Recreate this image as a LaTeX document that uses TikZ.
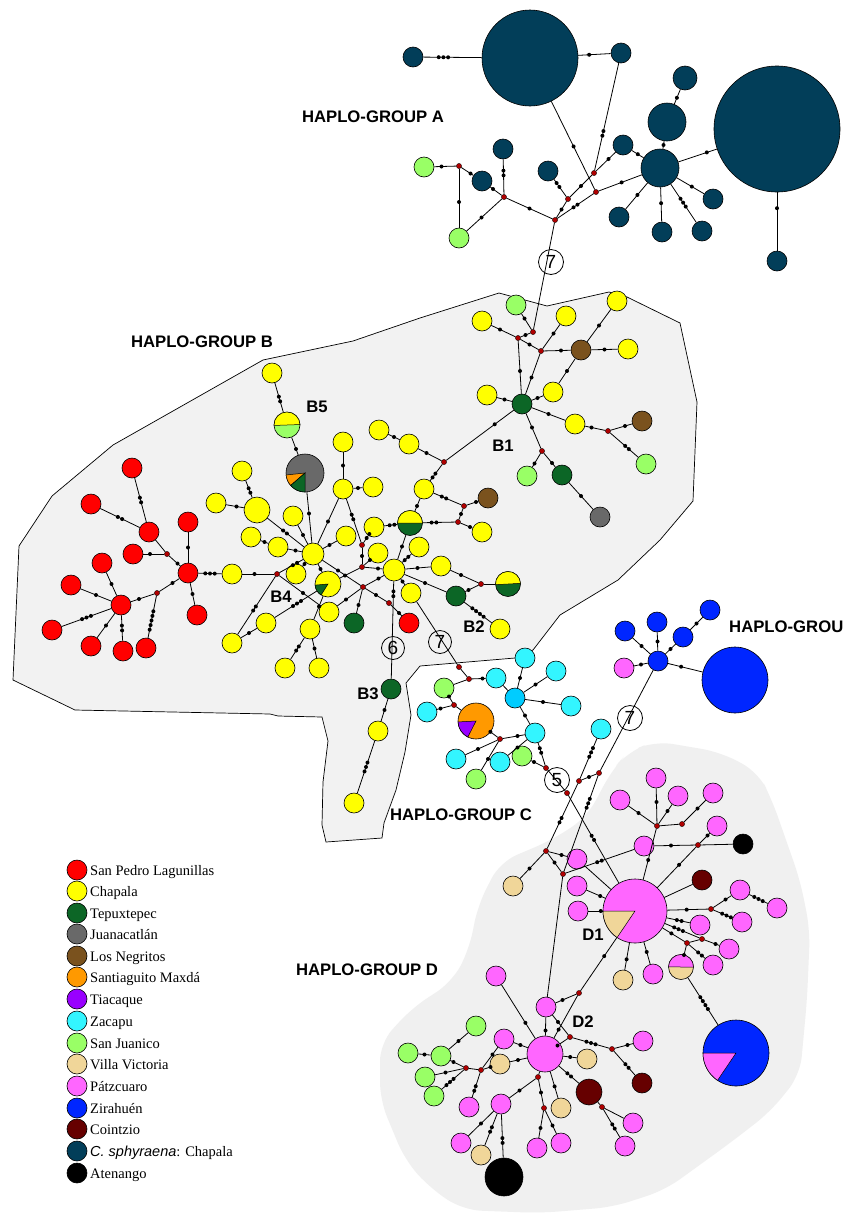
\documentclass[tikz,border=0pt]{standalone}
\usepackage{fontspec}
\setmainfont{Liberation Serif}
\newfontfamily\labfont{Liberation Sans}
\usetikzlibrary{calc}
\definecolor{cSPL}{RGB}{255,0,0}
\definecolor{cCHA}{RGB}{255,255,0}
\definecolor{cTEP}{RGB}{12,102,38}
\definecolor{cJUA}{RGB}{105,105,105}
\definecolor{cNEG}{RGB}{122,82,30}
\definecolor{cSAN}{RGB}{255,153,0}
\definecolor{cTIA}{RGB}{153,0,255}
\definecolor{cZAC}{RGB}{51,245,255}
\definecolor{cZACd}{RGB}{0,204,255}
\definecolor{cSJU}{RGB}{153,255,102}
\definecolor{cVIL}{RGB}{240,214,153}
\definecolor{cPAT}{RGB}{255,102,255}
\definecolor{cZIR}{RGB}{0,38,255}
\definecolor{cCOI}{RGB}{102,0,0}
\definecolor{cSPH}{RGB}{2,62,89}
\definecolor{cATE}{RGB}{0,0,0}
\definecolor{cMED}{RGB}{175,0,0}
\definecolor{bgB}{RGB}{242,242,242}
\definecolor{bgD}{RGB}{240,240,240}
\newcounter{mc}
\newcommand\mdot[1]{\stepcounter{mc}\node[mut] (mu\arabic{mc}) at (#1) {};}
\newcommand\ee[2]{\draw[edge] (#1) -- (#2);}
\newcommand\ed[4][0.5]{%
  \draw[edge] (#2) -- (#3);
  \coordinate (tm) at ($(#2)!#1!(#3)$);
  \ifcase#4\relax
  \or \mdot{tm}
  \or \mdot{$(tm)!-2.4pt!(#3)$}\mdot{$(tm)!2.4pt!(#3)$}
  \or \mdot{$(tm)!-4.7pt!(#3)$}\mdot{tm}\mdot{$(tm)!4.7pt!(#3)$}
  \or \mdot{$(tm)!-7pt!(#3)$}\mdot{$(tm)!-2.4pt!(#3)$}\mdot{$(tm)!2.4pt!(#3)$}\mdot{$(tm)!7pt!(#3)$}
  \or \mdot{$(tm)!-9.4pt!(#3)$}\mdot{$(tm)!-4.7pt!(#3)$}\mdot{tm}\mdot{$(tm)!4.7pt!(#3)$}\mdot{$(tm)!9.4pt!(#3)$}
  \fi}
\newcommand\pwedge[6]{\filldraw[fill=#6,draw=black,line width=0.5pt] (#1,#2) -- +(#4:#3) arc[start angle=#4,end angle=#5,radius=#3] -- cycle;}
\begin{document}
\begin{tikzpicture}[x=1pt,y=-1pt,
  hap/.style={circle,draw=black,line width=0.6pt,inner sep=0pt,minimum size=20pt},
  sSPL/.style={fill=cSPL}, sCHA/.style={fill=cCHA}, sTEP/.style={fill=cTEP},
  sJUA/.style={fill=cJUA}, sNEG/.style={fill=cNEG}, sSAN/.style={fill=cSAN},
  sTIA/.style={fill=cTIA}, sZAC/.style={fill=cZAC}, sZACd/.style={fill=cZACd},
  sSJU/.style={fill=cSJU}, sVIL/.style={fill=cVIL}, sPAT/.style={fill=cPAT},
  sZIR/.style={fill=cZIR}, sCOI/.style={fill=cCOI}, sSPH/.style={fill=cSPH},
  sATE/.style={fill=cATE},
  med/.style={circle,draw=black,line width=0.3pt,fill=cMED,inner sep=0pt,minimum size=5.2pt},
  mut/.style={circle,fill=black,inner sep=0pt,minimum size=4pt},
  edge/.style={line width=0.8pt},
  numc/.style={circle,draw=black,line width=0.8pt,inner sep=0pt,minimum size=25pt,font=\labfont\fontsize{19}{19}\selectfont},
  lab/.style={font=\labfont\bfseries\fontsize{16.7}{18}\selectfont,inner sep=0pt},
  leg/.style={anchor=base west,font=\fontsize{14.5}{16}\selectfont,inner sep=0pt}]
\useasboundingbox (0,0) rectangle (854,1216);
\fill[white] (0,0) rectangle (854,1216);
% regions
\filldraw[fill=bgB,draw=black,line width=0.7pt] (499,293) -- (547,306) -- (609,292) -- (627,297) -- (680,323) -- (697,402) -- (693,501) -- (660,540) -- (618,580) -- (560,615) -- (533,650) -- (515,658) -- (420,666) -- (406,683) -- (411,715) -- (405,752) -- (396,790) -- (384,823) -- (382,838) -- (326,842) -- (322,825) -- (323,782) -- (328,741) -- (322,717) -- (278,716) -- (270,714) -- (75,710) -- (13,680) -- (19,546) -- (52,496) -- (113,445) -- (263,360) -- (353,341) -- (420,318) -- cycle;
\fill[bgD,rounded corners=18pt] (469,950) -- (478,905) -- (500,862) -- (552,840) -- (587,817) -- (612,770) -- (628,752) -- (655,741) -- (720,752) -- (758,772) -- (772,800) -- (800,880) -- (810,930) -- (807,1000) -- (800,1075) -- (770,1112) -- (730,1143) -- (665,1190) -- (613,1207) -- (540,1213) -- (463,1210) -- (430,1188) -- (405,1160) -- (380,1100) -- (380,1043) -- (412,1008) -- (452,982) -- cycle;

% ---------- group A nodes
\node[hap,sSPH] (A1) at (413,57) {};
\node[hap,sSPH,minimum size=96pt] (A2) at (530,58) {};
\node[hap,sSPH] (A3) at (621,53) {};
\node[hap,sSPH,minimum size=24pt] (A4) at (685,78) {};
\node[hap,sSPH,minimum size=38pt] (A5) at (667,122) {};
\node[hap,sSPH] (A6) at (623,145) {};
\node[hap,sSPH,minimum size=38pt] (A7) at (660,168) {};
\node[hap,sSPH,minimum size=126pt] (A8) at (777,129) {};
\node[hap,sSPH] (A9) at (777,261) {};
\node[hap,sSPH] (A10) at (713,199) {};
\node[hap,sSPH] (A11) at (702,231) {};
\node[hap,sSPH] (A12) at (662,232) {};
\node[hap,sSPH] (A13) at (619,217) {};
\node[hap,sSPH] (A14) at (548,171) {};
\node[hap,sSPH] (A15) at (503,149) {};
\node[hap,sSPH] (A16) at (482,181) {};
\node[hap,sSJU] (AG1) at (424,167) {};
\node[hap,sSJU] (AG2) at (459,238) {};
\node[med] (mA1) at (459,166) {};
\node[med] (mA2) at (504,197) {};
\node[med] (mA3) at (555,220) {};
\node[med] (mA4) at (568,199) {};
\node[med] (mA5) at (594,173) {};
\node[med] (mA6) at (596,192) {};

% ---------- group B nodes
\node[hap,sSJU] (gB1) at (516,305) {};
\node[hap,sCHA] (yB1) at (482,321) {};
\node[med] (mB1) at (533,332) {};
\node[med] (mB2) at (518,338) {};
\node[hap,sCHA] (yB2) at (566,316) {};
\node[hap,sCHA] (yB3) at (617,301) {};
\node[med] (mB3) at (541,351) {};
\node[hap,sNEG] (brB1) at (581,350) {};
\node[hap,sCHA] (yB4) at (628,349) {};
\node[hap,sTEP] (tB1) at (522,404) {};
\node[hap,sCHA] (yB5) at (487,395) {};
\node[hap,sCHA] (yB6) at (553,392) {};
\node[hap,sCHA] (yB7) at (575,424) {};
\node[med] (mB4) at (608,431) {};
\node[hap,sNEG] (brB2) at (642,421) {};
\node[hap,sSJU] (gB2) at (646,464) {};
\node[med] (mB5) at (542,451) {};
\node[hap,sSJU] (gB3) at (527,476) {};
\node[hap,sTEP] (tB2) at (562,475) {};
\node[hap,sJUA] (grB1) at (600,517) {};
\node[hap,sCHA] (yB8) at (409,444) {};
\node[hap,sCHA] (yB8b) at (379,430) {};
\node[med] (mB6) at (444,462) {};
\node[hap,sCHA] (yB9) at (424,489) {};
\node[hap,sNEG] (brB3) at (488,498) {};
\node[med] (mB7) at (464,506) {};
\node[med] (mB8) at (458,522) {};
\node[hap,sTEP,minimum size=25pt] (tB3) at (410,523) {};
\node[hap,sCHA] (yB10) at (482,532) {};
\node[hap,sCHA,minimum size=22pt] (yH2) at (394,570) {};
\node[hap,sCHA] (yC1) at (343,442) {};
\node[hap,sCHA] (yC2) at (343,489) {};
\node[hap,sCHA] (yC3) at (373,487) {};
\node[hap,sCHA] (yC4) at (346,536) {};
\node[hap,sCHA] (yC5) at (374,527) {};
\node[hap,sCHA] (yC6) at (378,553) {};
\node[hap,sCHA] (yC7) at (419,547) {};
\node[hap,sCHA] (yC8) at (441,566) {};
\node[med] (mB9) at (481,584) {};
\node[hap,sTEP,minimum size=25pt] (hB2) at (508,584) {};
\node[hap,sTEP] (tB4) at (456,596) {};
\node[hap,sCHA] (yB2b) at (500,629) {};
\node[hap,sCHA] (yC9) at (411,593) {};
\node[med] (mB12) at (362,545) {};
\node[med] (mB13) at (362,567) {};
\node[med] (mB11) at (363,587) {};
\node[med] (mB14) at (389,603) {};
\node[hap,sSPL] (rB1) at (409,623) {};
\node[hap,sTEP] (tB5) at (354,623) {};
\node[hap,sTEP] (tB3b) at (391,689) {};
\node[hap,sCHA] (yB11) at (378,731) {};
\node[hap,sCHA] (yB12) at (354,803) {};
\node[hap,sCHA] (yD1) at (272,373) {};
\node[hap,sSJU,minimum size=26pt] (hB5) at (287,425) {};
\node[hap,sJUA,minimum size=38pt] (grP) at (305,473) {};
\node[hap,sCHA] (yD2) at (242,471) {};
\node[hap,sCHA] (yD3) at (216,503) {};
\node[hap,sCHA,minimum size=26pt] (yD4) at (257,510) {};
\node[hap,sCHA] (yD5) at (293,516) {};
\node[hap,sCHA] (yD6) at (251,537) {};
\node[hap,sCHA] (yD7) at (278,547) {};
\node[hap,sCHA,minimum size=22pt] (hub4) at (313,554) {};
\node[hap,sCHA] (yD8) at (232,574) {};
\node[med] (mB10) at (277,574) {};
\node[hap,sCHA] (yD9) at (296,574) {};
\node[hap,sCHA,minimum size=26pt] (hpB4) at (328,584) {};
\node[hap,sCHA] (yD10) at (329,612) {};
\node[hap,sCHA] (yD11) at (266,623) {};
\node[hap,sCHA] (yD12) at (232,643) {};
\node[hap,sCHA] (yD13) at (310,629) {};
\node[hap,sCHA] (yD14) at (285,668) {};
\node[hap,sCHA] (yD15) at (319,668) {};
\node[hap,sSPL] (R1) at (132,468) {};
\node[hap,sSPL] (R2) at (91,504) {};
\node[hap,sSPL] (R3) at (149,532) {};
\node[hap,sSPL] (R4) at (188,522) {};
\node[hap,sSPL] (R5) at (133,554) {};
\node[med] (mR1) at (167,554) {};
\node[hap,sSPL] (R6) at (188,573) {};
\node[hap,sSPL] (R7) at (102,563) {};
\node[hap,sSPL] (R8) at (71,585) {};
\node[med] (mR2) at (157,593) {};
\node[hap,sSPL] (R9) at (121,605) {};
\node[hap,sSPL] (R10) at (197,615) {};
\node[hap,sSPL] (R11) at (52,630) {};
\node[hap,sSPL] (R12) at (91,646) {};
\node[hap,sSPL] (R13) at (123,651) {};
\node[hap,sSPL] (R14) at (146,648) {};

% ---------- group C nodes
\node[med] (mC1) at (459,667) {};
\node[med] (mC2) at (469,679) {};
\node[hap,sSJU] (gC1) at (444,688) {};
\node[hap,sZAC] (c1) at (496,678) {};
\node[hap,sZAC] (c2) at (525,658) {};
\node[hap,sZAC] (c3) at (556,671) {};
\node[hap,sZACd] (cHub) at (515,698) {};
\node[hap,sZAC] (c4) at (571,706) {};
\node[hap,sZAC] (c5) at (427,712) {};
\node[med] (mC3) at (454,705) {};
\node[hap,sSAN,minimum size=36pt] (orP) at (476,721) {};
\node[hap,sZAC] (c6) at (535,733) {};
\node[med] (mC4) at (500,739) {};
\node[hap,sZAC] (c7) at (456,759) {};
\node[hap,sZAC] (c8) at (500,762) {};
\node[hap,sSJU] (gC2) at (522,756) {};
\node[hap,sSJU] (gC3) at (476,779) {};
\node[med] (mC5) at (546,768) {};
\node[med] (mC6) at (567,793) {};
\node[hap,sZAC] (c9) at (601,729) {};
\node[med] (mC7) at (579,781) {};
\node[med] (mC8) at (599,773) {};

% ---------- Zirahuen group
\node[hap,sZIR] (zb1) at (625,631) {};
\node[hap,sZIR] (zb2) at (657,622) {};
\node[hap,sZIR] (zb3) at (683,637) {};
\node[hap,sZIR] (zb4) at (710,610) {};
\node[hap,sPAT] (zp) at (624,668) {};
\node[hap,sZIR] (zHub) at (658,661) {};
\node[hap,sZIR,minimum size=66pt] (zBig) at (735,680) {};

% ---------- group D nodes
\node[med] (mD1) at (546,851) {};
\node[med] (mD2) at (563,874) {};
\node[hap,sVIL] (v1) at (513,886) {};
\node[hap,sPAT] (p1) at (577,859) {};
\node[hap,sPAT] (p2) at (577,886) {};
\node[hap,sPAT] (p3) at (578,911) {};
\node[hap,sPAT] (p4) at (644,846) {};
\node[hap,sPAT] (p5) at (656,778) {};
\node[hap,sPAT] (p6) at (620,800) {};
\node[hap,sPAT] (p7) at (678,796) {};
\node[hap,sPAT] (p8) at (713,793) {};
\node[hap,sPAT] (p9) at (717,826) {};
\node[med] (mD3) at (657,826) {};
\node[med] (mD4) at (682,824) {};
\node[med] (mD5) at (698,845) {};
\node[hap,sATE] (blk1) at (743,844) {};
\node[hap,sPAT,minimum size=64pt] (D1) at (635,911) {};
\node[hap,sCOI] (cz1) at (702,880) {};
\node[hap,sPAT] (p10) at (740,890) {};
\node[hap,sPAT] (p11) at (777,908) {};
\node[med] (mD6) at (711,909) {};
\node[hap,sPAT] (p12) at (742,922) {};
\node[hap,sPAT] (p13) at (700,925) {};
\node[med] (mD7) at (702,939) {};
\node[med] (mD8) at (687,943) {};
\node[hap,sPAT] (p14) at (729,949) {};
\node[hap,sPAT] (p15) at (713,965) {};
\node[hap,sVIL,minimum size=25pt] (hD) at (681,967) {};
\node[hap,sPAT] (p16) at (653,974) {};
\node[hap,sVIL] (v2) at (623,980) {};
\node[hap,sPAT] (p17) at (496,976) {};
\node[hap,sZIR,minimum size=66pt] (zP) at (736,1053) {};
\node[hap,sPAT] (pD2a) at (546,1007) {};
\node[med] (mD9) at (579,993) {};
\node[hap,sPAT,minimum size=36pt] (D2) at (545,1054) {};
\node[med] (mD10) at (570,1037) {};
\node[hap,sPAT] (p19) at (643,1041) {};
\node[med] (mD11) at (612,1049) {};
\node[hap,sCOI] (cz2) at (642,1083) {};
\node[hap,sVIL] (v3) at (587,1059) {};
\node[hap,sCOI,minimum size=26pt] (cz3) at (589,1092) {};
\node[med] (mD12) at (602,1107) {};
\node[hap,sPAT] (p20) at (633,1123) {};
\node[hap,sPAT] (p21) at (625,1146) {};
\node[hap,sVIL] (v4) at (561,1108) {};
\node[med] (mD13) at (544,1108) {};
\node[hap,sPAT] (p22) at (537,1148) {};
\node[hap,sPAT] (p23) at (561,1143) {};
\node[med] (mD14) at (538,1077) {};
\node[hap,sPAT] (pD2b) at (501,1104) {};
\node[hap,sPAT] (p24) at (461,1143) {};
\node[hap,sVIL] (v5) at (481,1155) {};
\node[hap,sATE,minimum size=38pt] (blk2) at (504,1177) {};
\node[hap,sPAT] (p25) at (469,1107) {};
\node[hap,sPAT] (p26) at (504,1039) {};
\node[hap,sVIL] (v6) at (500,1064) {};
\node[med] (mD15) at (481,1070) {};
\node[med] (mD16) at (466,1068) {};
\node[hap,sSJU] (g1) at (476,1026) {};
\node[hap,sSJU] (g2) at (408,1053) {};
\node[hap,sSJU] (g3) at (441,1056) {};
\node[hap,sSJU] (g4) at (425,1077) {};
\node[hap,sSJU] (g5) at (434,1096) {};

% ---------- pies and split circles
\pwedge{305}{473}{19}{139}{174}{cSAN}
\pwedge{305}{473}{19}{90}{139}{cTEP}
\pwedge{328}{584}{13}{122}{175}{cTEP}
\pwedge{476}{721}{18}{117}{177}{cTIA}
\pwedge{635}{911}{32}{124}{180}{cVIL}
\pwedge{736}{1053}{33}{124}{180}{cPAT}
\pwedge{287}{425}{13}{178}{358}{cCHA}
\pwedge{410}{523}{12.5}{180}{360}{cCHA}
\pwedge{508}{584}{12.5}{177}{357}{cCHA}
\pwedge{681}{967}{12.5}{181}{361}{cPAT}

% ---------- edges group A
\ed[0.26]{A1}{A2}{3}
\ed[0.65]{A2}{A3}{1}
\ed[0.66]{A2}{mA6}{1}
\ed[0.67]{A3}{mA5}{2}
\ed{A6}{mA5}{1}
\ed{A14}{mA4}{2}
\ed{mA5}{mA4}{1}
\ed{mA4}{mA3}{1}
\ed{mA6}{mA3}{2}
\ed[0.4]{mA6}{A7}{1}
\ed{A7}{A5}{1}
\ed[0.55]{A5}{A4}{1}
\ed[0.6]{A7}{A6}{1}
\ed[0.4]{A7}{A8}{1}
\ed[0.6]{A8}{A9}{1}
\ed[0.55]{A7}{A13}{1}
\ed[0.55]{A7}{A12}{1}
\ed[0.55]{A7}{A11}{3}
\ed[0.6]{A7}{A10}{1}
\ed{A15}{mA2}{2}
\ed{A16}{mA2}{1}
\ed{AG1}{mA1}{1}
\ed{mA1}{A16}{1}
\ed{mA1}{AG2}{1}
\ed{AG2}{mA2}{1}
\ed{mA2}{mA3}{1}
\ee{mA3}{mB1}
\node[numc] (n7a) at (551,262) {7};

% ---------- edges group B
\ed{gB1}{mB1}{1}
\ed{mB2}{mB1}{1}
\ed{yB1}{mB2}{1}
\ed{mB2}{mB3}{1}
\ed{mB2}{tB1}{1}
\ed{mB3}{yB2}{1}
\ed{mB3}{brB1}{1}
\ed{mB3}{tB1}{1}
\ed{brB1}{yB3}{1}
\ed{brB1}{yB4}{1}
\ed{brB1}{yB6}{1}
\ed{yB5}{tB1}{1}
\ed{yB6}{tB1}{1}
\ed{tB1}{yB7}{1}
\ed{yB7}{mB4}{1}
\ed{mB4}{brB2}{1}
\ed{mB4}{gB2}{2}
\ed{tB1}{mB5}{1}
\ed{mB5}{gB3}{1}
\ed{mB5}{tB2}{1}
\ed{tB2}{grB1}{1}
\ed[0.35]{tB1}{mB6}{1}
\ed{yB8b}{yB8}{1}
\ed{yB8}{mB6}{1}
\ed{mB6}{yB9}{2}
\ed{yB9}{tB3}{1}
\ed{yB9}{mB7}{2}
\ed{mB7}{brB3}{1}
\ed{mB8}{mB7}{1}
\ed{tB3}{mB8}{2}
\ed{mB8}{yB10}{1}
\ed{yC5}{tB3}{2}
\ed{tB3}{yH2}{1}
\ed{yH2}{yC7}{2}
\ed{yH2}{yC8}{1}
\ed{yH2}{tB4}{1}
\ed{yC8}{mB9}{1}
\ed{tB4}{mB9}{1}
\ee{mB9}{hB2}
\ed{tB4}{yB2b}{4}
\ed{yH2}{yC9}{1}
\ed[0.2]{yH2}{tB3b}{2}
\node[numc,minimum size=23pt] (n6) at (393,648) {6};
\ee{yC9}{mC1}
\node[numc,minimum size=23pt] (n7b) at (440,642) {7};
\ed{tB3b}{yB11}{1}
\ed{yB11}{yB12}{3}
\ed{yC1}{yC2}{1}
\ed{yC2}{yC3}{1}
\ed{yC2}{hub4}{1}
\ed{yC4}{hub4}{1}
\ed{yC2}{mB12}{2}
\ed{mB12}{yC5}{2}
\ed{mB12}{mB13}{1}
\ed{mB13}{yH2}{1}
\ed{mB13}{yC6}{1}
\ed{mB13}{hpB4}{1}
\ed{hub4}{mB11}{1}
\ed{mB11}{mB14}{1}
\ed{mB14}{rB1}{1}
\ed{mB11}{yH2}{1}
\ed{mB11}{tB5}{1}
\ed{yD10}{mB11}{1}
\ed{yD2}{yD4}{2}
\ed{yD3}{yD4}{1}
\ed{yD4}{hub4}{2}
\ed{yD5}{hub4}{1}
\ed{yD6}{yD7}{1}
\ed{yD7}{hub4}{1}
\ed{grP}{hub4}{1}
\ed{hB5}{grP}{1}
\ed{yD1}{hB5}{2}
\ed{hub4}{mB10}{2}
\ed{yD8}{mB10}{1}
\ed{mB10}{yD12}{2}
\ed{mB10}{yD10}{1}
\ed{hub4}{yD9}{1}
\ed{hub4}{hpB4}{1}
\ed{yD11}{hpB4}{3}
\ed{yD12}{yD11}{1}
\ed{hpB4}{yD13}{1}
\ed{yD13}{yD14}{2}
\ed{yD13}{yD15}{1}
\ed{R1}{R3}{2}
\ed{R2}{R3}{2}
\ee{R3}{mR1}
\ed{R5}{mR1}{1}
\ed{mR1}{R6}{1}
\ed{R4}{R6}{1}
\ed{R6}{R10}{1}
\ed{R6}{yD8}{3}
\ed{R6}{mR2}{1}
\ed{mR2}{R9}{1}
\ed{mR2}{R14}{5}
\ed{R7}{R9}{1}
\ed{R8}{R9}{1}
\ed{R11}{R9}{3}
\ed{R12}{R9}{1}
\ed{R13}{R9}{2}

% ---------- edges group C
\ee{mC1}{mC2}
\ed{mC2}{c1}{1}
\ee{mC2}{gC1}
\ed{gC1}{mC3}{1}
\ed{c5}{mC3}{1}
\ee{mC3}{orP}
\ee{c1}{cHub}
\ed{cHub}{c2}{1}
\ed{cHub}{c3}{1}
\ed{cHub}{c4}{1}
\ed{cHub}{c6}{1}
\ed[0.6]{orP}{mC4}{1}
\ed{mC4}{c6}{1}
\ed{mC4}{c7}{1}
\ed{mC4}{gC3}{1}
\ed{c8}{c6}{1}
\ed{c6}{mC5}{2}
\ed{gC2}{mC5}{1}
\ee{mC5}{mC6}
\node[numc] (n5) at (557,780) {5};
\ed[0.45]{c9}{mC7}{3}
\ed{mC7}{mC8}{1}
\ed[0.56]{mC7}{mD1}{2}
\ed[0.3]{mC8}{mD2}{3}
\ee{zHub}{mC8}
\node[numc] (n7c) at (630,718) {7};

% ---------- edges Zirahuen
\ed{zb1}{zHub}{1}
\ed{zb2}{zHub}{1}
\ed{zb3}{zHub}{1}
\ed{zb4}{zb3}{1}
\ed{zp}{zHub}{1}
\ed[0.3]{zHub}{zBig}{1}

% ---------- edges group D
\ed[0.38]{mC6}{D1}{2}
\ed{mD1}{v1}{1}
\ed{mD1}{mD2}{1}
\ed{mD1}{p1}{1}
\ed[0.45]{mD2}{p4}{2}
\ee{p1}{D1}
\ed[0.4]{p2}{D1}{1}
\ed[0.4]{p3}{D1}{1}
\ed{p5}{mD3}{1}
\ed{p6}{mD3}{1}
\ed{p7}{mD3}{1}
\ee{mD3}{mD4}
\ed{p8}{mD4}{1}
\ed[0.4]{mD3}{D1}{1}
\ed{p9}{mD5}{1}
\ed{p4}{mD5}{1}
\ee{mD5}{blk1}
\ed[0.3]{mD5}{D1}{1}
\ee{cz1}{D1}
\ed[0.68]{D1}{mD6}{1}
\ed{mD6}{p10}{1}
\ed{p10}{p11}{3}
\ed{mD6}{p12}{3}
\ed[0.68]{D1}{p13}{2}
\ed[0.65]{D1}{mD7}{3}
\ed{mD7}{p14}{1}
\ed[0.7]{D1}{mD8}{1}
\ee{mD8}{mD7}
\ed{mD8}{p15}{2}
\ed{mD8}{hD}{1}
\ed[0.65]{D1}{p16}{1}
\ed[0.7]{D1}{v2}{1}
\ed[0.55]{D1}{mD9}{1}
\ed[0.42]{hD}{zP}{4}
\ee{mD2}{pD2a}
\ed{mD9}{pD2a}{1}
\ed[0.6]{mD9}{D2}{1}
\ed{pD2a}{D2}{1}
\ed{pD2a}{mD10}{1}
\ed{D2}{mD10}{1}
\ed{mD10}{mD11}{3}
\ed{mD11}{p19}{1}
\ed{mD11}{cz2}{2}
\ed[0.6]{D2}{v3}{1}
\ed[0.55]{D2}{cz3}{2}
\ee{cz3}{mD12}
\ee{mD12}{p20}
\ed{mD12}{p21}{2}
\ed[0.6]{D2}{v4}{1}
\ee{D2}{mD14}
\ed{mD14}{mD13}{1}
\ed{mD13}{p22}{1}
\ed{mD13}{p23}{1}
\ed{mD14}{pD2b}{1}
\ed{pD2b}{p24}{1}
\ed{pD2b}{v5}{2}
\ed{pD2b}{blk2}{2}
\ed{p25}{mD15}{2}
\ed{mD15}{v6}{1}
\ed[0.4]{v6}{D2}{1}
\ed{mD15}{p26}{1}
\ed[0.4]{p26}{D2}{1}
\ee{mD16}{mD15}
\ed{g4}{mD16}{1}
\ed{g5}{mD16}{3}
\ed{g1}{g3}{1}
\ed{g2}{g3}{1}
\ed{g3}{mD16}{1}
\ed[0.6]{p17}{D2}{1}

% ---------- labels
\node[lab] (labA) at (373,117) {HAPLO-GROUP A};
\node[lab] (labB) at (202,342) {HAPLO-GROUP B};
\node[lab] (labC) at (461,815) {HAPLO-GROUP C};
\node[lab] (labD) at (367,970) {HAPLO-GROUP D};
\node[lab,anchor=west] (labE) at (729,627) {HAPLO-GROU};
\node[lab] (lB1) at (503,446) {B1};
\node[lab] (lB2) at (474,627) {B2};
\node[lab] (lB3) at (368,694) {B3};
\node[lab] (lB4) at (281,597) {B4};
\node[lab] (lB5) at (317,407) {B5};
\node[lab] (lD1) at (593,935) {D1};
\node[lab] (lD2) at (583,1022) {D2};

% ---------- legend
\foreach \i/\yy/\st/\tx in {1/870/sSPL/San Pedro Lagunillas, 2/891/sCHA/Chapala, 3/913/sTEP/Tepuxtepec, 4/934/sJUA/Juanacatlán, 5/956/sNEG/Los Negritos, 6/977/sSAN/Santiaguito Maxdá, 7/999/sTIA/Tiacaque, 8/1021/sZAC/Zacapu, 9/1043/sSJU/San Juanico, 10/1064/sVIL/Villa Victoria, 11/1086/sPAT/Pátzcuaro, 12/1108/sZIR/Zirahuén, 13/1129/sCOI/Cointzio, 15/1173/sATE/Atenango}{
  \node[hap,\st] (L\i) at (77,\yy) {};
  \node[leg] (T\i) at (90,\yy+5) {\tx};
}
\node[hap,sSPH] (L14) at (77,1151) {};
\node[leg] (T14) at (90,1156) {{\labfont\itshape C. sphyraena}: Chapala};
\end{tikzpicture}
\end{document}
